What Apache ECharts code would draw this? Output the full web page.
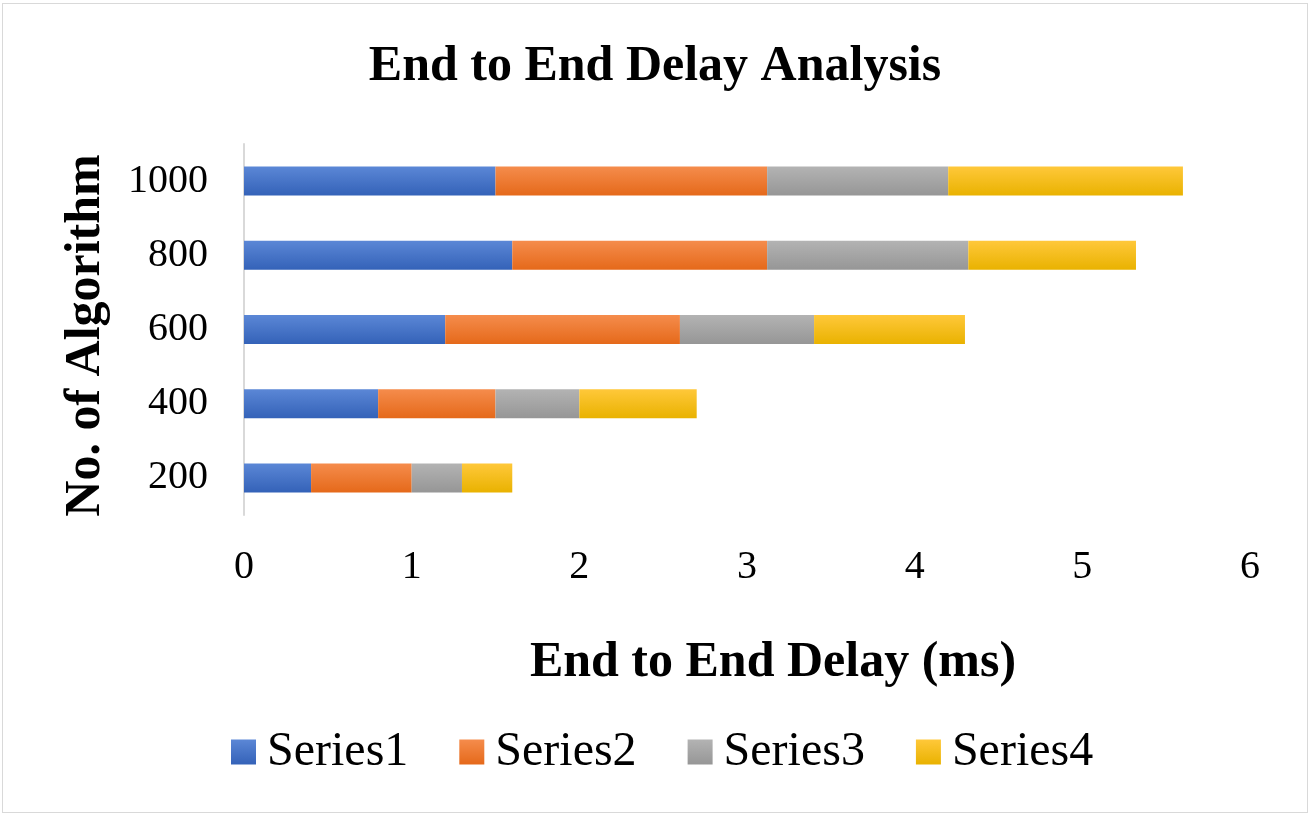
<!DOCTYPE html>
<html>
<head>
    <meta charset="UTF-8">
    <title>End to End Delay Analysis</title>
    <style>
      html, body{
        margin: 0;
        padding: 0;
        background: #fff;
      }
      #container{
        position: absolute;
        left: 2px;
        top: 3px;
        width: 1306px;
        height: 810px;
        box-sizing: border-box;
        border: 1px solid #d9d9d9;
      }
    </style>
    <script src="https://cdn.jsdelivr.net/npm/echarts@6/dist/echarts.min.js"></script>
</head>
<body>
<div id="container"></div>
<script>
    var categories = ['200', '400', '600', '800', '1000'];
    var series1 = [0.4, 0.8, 1.2, 1.6, 1.5];
    var series2 = [0.6, 0.7, 1.4, 1.52, 1.62];
    var series3 = [0.3, 0.5, 0.8, 1.2, 1.08];
    var series4 = [0.3, 0.7, 0.9, 1.0, 1.4];
    var seriesNames = ['Series1', 'Series2', 'Series3', 'Series4'];
    var xTicks = [0, 1, 2, 3, 4, 5, 6];

    var font = '"Liberation Serif", "Times New Roman", serif';

    // excel style vertical shading, light on top, dark at the bottom
    function shade(top, bottom) {
        return new echarts.graphic.LinearGradient(0, 0, 0, 1, [
            {offset: 0, color: top},
            {offset: 1, color: bottom}
        ]);
    }
    var colors = [
        shade('#5b87d6', '#3462b8'),
        shade('#f58c4c', '#e5691a'),
        shade('#b3b3b3', '#969696'),
        shade('#ffc83a', '#e9b200')
    ];

    function makeSeries(name, data, i) {
        return {
            name: name,
            type: 'bar',
            stack: 'total',
            barWidth: 29,
            data: data,
            itemStyle: {color: colors[i]},
            emphasis: {disabled: true}
        };
    }

    var dom = document.getElementById('container');
    var myChart = echarts.init(dom, null, {renderer: 'canvas'});
    var option = {
        backgroundColor: '#FFFFFF',
        animation: false,
        textStyle: {fontFamily: font, color: '#000'},
        title: {
            text: 'End to End Delay Analysis',
            left: 'center',
            top: 33,
            textStyle: {
                fontFamily: font,
                fontSize: 50,
                fontWeight: 'bold',
                color: '#000'
            }
        },
        legend: {
            data: seriesNames,
            left: 223,
            top: 719,
            itemWidth: 25,
            itemHeight: 25,
            itemGap: 51,
            icon: 'rect',
            textStyle: {
                fontFamily: font,
                fontSize: 48,
                color: '#000',
                padding: [0, 0, 0, 6]
            }
        },
        grid: {
            left: 241,
            right: 57,
            top: 140,
            bottom: 297,
            containLabel: false
        },
        xAxis: {
            type: 'value',
            min: xTicks[0],
            max: xTicks[xTicks.length - 1],
            interval: 1,
            name: 'End to End Delay (ms)',
            nameLocation: 'middle',
            nameGap: 123,
            nameTextStyle: {
                fontFamily: font,
                fontSize: 50,
                fontWeight: 'bold',
                color: '#000',
                padding: [0, 0, 0, 52]
            },
            axisLine: {show: false},
            axisTick: {show: false},
            splitLine: {show: false},
            axisLabel: {
                fontFamily: font,
                fontSize: 40,
                color: '#000',
                margin: 32
            }
        },
        yAxis: {
            type: 'category',
            data: categories,
            name: 'No. of Algorithm',
            nameLocation: 'middle',
            nameGap: 133,
            nameTextStyle: {
                fontFamily: font,
                fontSize: 50,
                fontWeight: 'bold',
                color: '#000',
                padding: [0, 12, 0, 0]
            },
            axisLine: {show: true, lineStyle: {color: '#d9d9d9', width: 2}},
            axisTick: {show: false},
            splitLine: {show: false},
            axisLabel: {
                fontFamily: font,
                fontSize: 40,
                color: '#000',
                margin: 36
            }
        },
        series: [
            makeSeries(seriesNames[0], series1, 0),
            makeSeries(seriesNames[1], series2, 1),
            makeSeries(seriesNames[2], series3, 2),
            makeSeries(seriesNames[3], series4, 3)
        ]
    };
    myChart.setOption(option, true);
</script>
</body>
</html>
